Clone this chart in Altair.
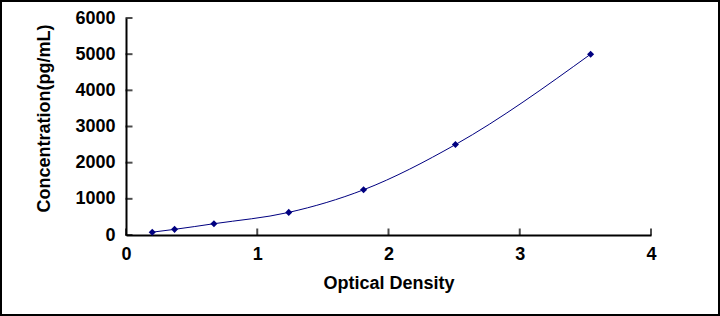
import altair as alt
import pandas as pd

od = [0.20, 0.37, 0.67, 1.24, 1.81, 2.51, 3.54]
conc = [78, 156, 312, 625, 1250, 2500, 5000]
x_ticks = [0, 1, 2, 3, 4]
y_ticks = [0, 1000, 2000, 3000, 4000, 5000, 6000]

df = pd.DataFrame({"od": od, "conc": conc})
W, H = 525, 217
FONT = "Liberation Sans"
NAVY = "#000080"

xs = alt.Scale(domain=[0, 4], nice=False)
ys = alt.Scale(domain=[0, 6000], nice=False)

common = dict(grid=False, ticks=False, domainColor="black", domainWidth=2,
              labelFont=FONT, labelFontSize=18, labelFontWeight="bold",
              labelColor="black", labelOverlap=False, labelFlush=False,
              titleFont=FONT, titleFontSize=18, titleFontWeight="bold",
              titleColor="black")

base = alt.Chart(df)
line = base.mark_line(color=NAVY, strokeWidth=1, interpolate="monotone").encode(
    x=alt.X("od:Q", scale=xs,
            axis=alt.Axis(title="Optical Density", values=x_ticks, format="d",
                          labelPadding=10, titlePadding=11, **common)),
    y=alt.Y("conc:Q", scale=ys,
            axis=alt.Axis(title="Concentration(pg/mL)", values=y_ticks, format="d",
                          labelPadding=11, titlePadding=21, titleY=100, **common)),
)
pts = base.mark_point(shape="diamond", filled=True, color=NAVY, size=50, opacity=1).encode(
    x=alt.X("od:Q", scale=xs, axis=None), y=alt.Y("conc:Q", scale=ys, axis=None)
)

xt = alt.Chart(pd.DataFrame({"v": x_ticks})).mark_tick(
    color="black", thickness=2, size=7, orient="vertical"
).encode(x=alt.X("v:Q", scale=xs, axis=None), y=alt.value(H - 3))
yt = alt.Chart(pd.DataFrame({"v": y_ticks})).mark_tick(
    color="black", thickness=2, size=7, orient="horizontal"
).encode(y=alt.Y("v:Q", scale=ys, axis=None), x=alt.value(3))
frame = alt.Chart(pd.DataFrame({"a": [0]})).mark_rect(
    fill=None, stroke="black", strokeWidth=2, clip=False
).encode(x=alt.value(-125), x2=alt.value(593), y=alt.value(-17), y2=alt.value(297))

chart = alt.layer(frame, line, pts, xt, yt).resolve_axis(
    x="independent", y="independent"
).properties(
    width=W, height=H,
    padding={"left": 126, "top": 18, "right": 69, "bottom": 81},
    autosize=alt.AutoSizeParams(type="none"),
    background="white",
).configure_view(stroke=None)

chart.save("out.html", embed_options={"renderer": "svg", "actions": False})
